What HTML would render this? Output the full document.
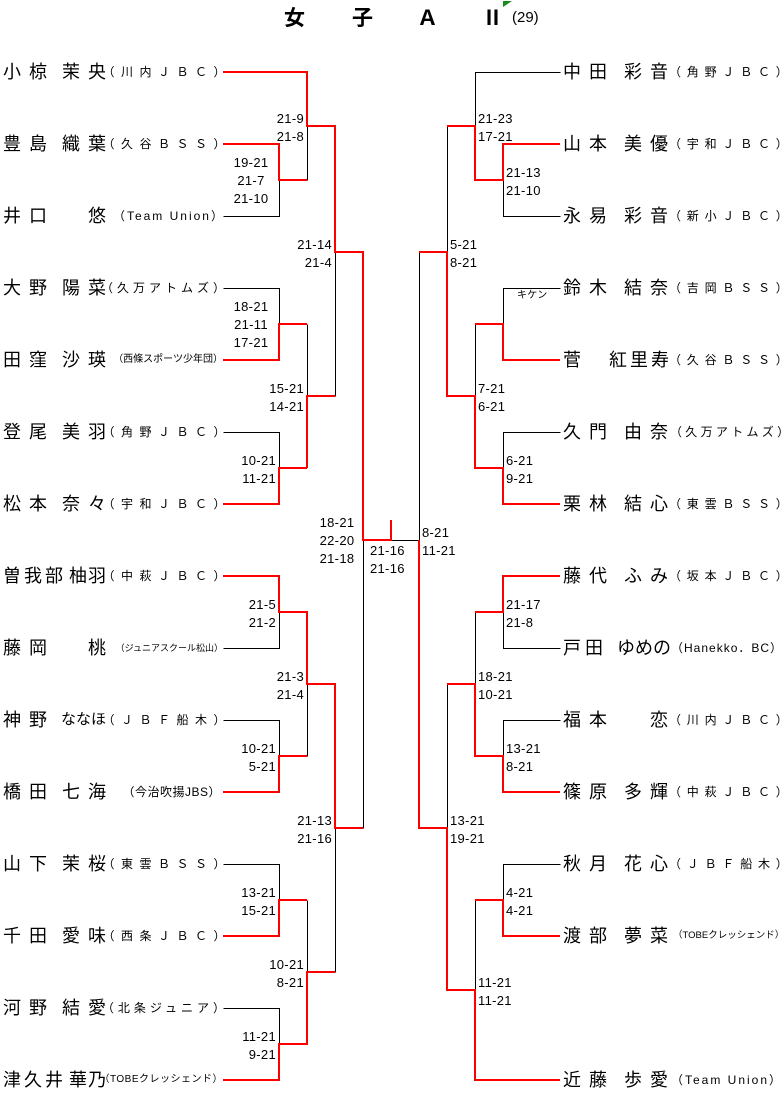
<!DOCTYPE html>
<html><head><meta charset="utf-8"><style>
body{margin:0;width:783px;height:1099px;background:#fff;position:relative;overflow:hidden;font-family:"Liberation Sans","Noto Sans CJK JP",sans-serif;color:#000}
svg{position:absolute;left:0;top:0}
.f,.g,.t,.s{position:absolute;white-space:nowrap}
.f,.g{font-size:18px;line-height:22px;letter-spacing:8px}
.t{font-size:12px;line-height:22px}
.s{font-size:13px;line-height:18px;letter-spacing:.3px}
.r{text-align:right}.c{text-align:center}
</style></head><body>
<svg width="783" height="1099" fill="none">
<g stroke="#000" stroke-width="1" transform="translate(0.5,0.5)">
<path d="M223,216H279V180M307,126V180M335,252V396M223,288H279V324M223,432H279V468M307,324V396M363,540V828M223,648H279V612M223,720H279V756M307,684V756M223,864H279V900M223,1008H279V1044M307,900V972M335,828V972"/>
<path d="M560,72H475V126M560,216H503V180M447,126V252M560,288H503V324M475,324V396M560,432H503V468M419,252V540M391,540H419M560,648H503V612M475,612V684M560,720H503V756M447,684V828M560,864H503V900M475,900V990"/>
</g>
<g stroke="#f00" stroke-width="2">
<path d="M223,72H307V126H335V252H363V540H391V520M223,144H279V180H307M223,360H279V324H307M307,468V396H335M223,504H279V468H307M223,576H279V612H307V684H335V828H363M223,792H279V756H307M223,936H279V900H307M223,1080H279V1044H307V972H335"/>
<path d="M560,144H503V180H475V126H447M560,360H503V324H475M560,504H503V468H475V396H447V252H419M560,576H503V612H475M560,792H503V756H475V684H447M560,936H503V900H475M560,1080H475V990H447V828H419V540"/>
</g>
<polygon points="503,1 512,1 503,7" fill="#1a8a1a"/>
</svg>
<div style="position:absolute;left:284px;top:6px;font-size:21px;font-weight:bold;line-height:26px;white-space:nowrap"><span style="position:absolute;left:0">女</span><span style="position:absolute;left:68px">子</span><span style="position:absolute;left:133px">Ａ</span><span style="position:absolute;left:198px">Ⅱ</span></div>
<div style="position:absolute;left:512px;top:9px;font-size:15px;line-height:18px">(29)</div>

<!-- LEFT names -->
<div class="f" style="left:3px;top:61px">小椋</div><div class="g r" style="right:669px;top:61px">茉央</div><div class="t r" style="right:551px;top:61px;letter-spacing:6.5px">（川内ＪＢＣ）</div>
<div class="f" style="left:3px;top:133px">豊島</div><div class="g r" style="right:669px;top:133px">織葉</div><div class="t r" style="right:551px;top:133px;letter-spacing:6.5px">（久谷ＢＳＳ）</div>
<div class="f" style="left:3px;top:205px">井口</div><div class="g r" style="right:669px;top:205px">悠</div><div class="t r" style="right:558px;top:205px;letter-spacing:2px">（Team Union）</div>
<div class="f" style="left:3px;top:277px">大野</div><div class="g r" style="right:669px;top:277px">陽菜</div><div class="t r" style="right:554px;top:277px;letter-spacing:4px">（久万アトムズ）</div>
<div class="f" style="left:3px;top:349px">田窪</div><div class="g r" style="right:669px;top:349px">沙瑛</div><div class="t r" style="right:560px;top:349px;font-size:10px">（西條スポーツ少年団）</div>
<div class="f" style="left:3px;top:421px">登尾</div><div class="g r" style="right:669px;top:421px">美羽</div><div class="t r" style="right:551px;top:421px;letter-spacing:6.5px">（角野ＪＢＣ）</div>
<div class="f" style="left:3px;top:493px">松本</div><div class="g r" style="right:669px;top:493px">奈々</div><div class="t r" style="right:551px;top:493px;letter-spacing:6.5px">（宇和ＪＢＣ）</div>
<div class="f" style="left:3px;top:565px;letter-spacing:3px">曽我部</div><div class="g r" style="right:676px;top:565px;letter-spacing:1px">柚羽</div><div class="t r" style="right:551px;top:565px;letter-spacing:6.5px">（中萩ＪＢＣ）</div>
<div class="f" style="left:3px;top:637px">藤岡</div><div class="g r" style="right:669px;top:637px">桃</div><div class="t r" style="right:560px;top:637px;font-size:9px">（ジュニアスクール松山）</div>
<div class="f" style="left:3px;top:709px">神野</div><div class="g r" style="right:677px;top:709px;letter-spacing:0;font-size:15px">ななほ</div><div class="t r" style="right:551px;top:709px;letter-spacing:6.5px">（ＪＢＦ船木）</div>
<div class="f" style="left:3px;top:781px">橋田</div><div class="g r" style="right:669px;top:781px">七海</div><div class="t r" style="right:562px;top:781px;letter-spacing:.5px">（今治吹揚JBS）</div>
<div class="f" style="left:3px;top:853px">山下</div><div class="g r" style="right:669px;top:853px">茉桜</div><div class="t r" style="right:551px;top:853px;letter-spacing:6.5px">（東雲ＢＳＳ）</div>
<div class="f" style="left:3px;top:925px">千田</div><div class="g r" style="right:669px;top:925px">愛味</div><div class="t r" style="right:551px;top:925px;letter-spacing:6.5px">（西条ＪＢＣ）</div>
<div class="f" style="left:3px;top:997px">河野</div><div class="g r" style="right:669px;top:997px">結愛</div><div class="t r" style="right:554px;top:997px;letter-spacing:4px">（北条ジュニア）</div>
<div class="f" style="left:3px;top:1069px;letter-spacing:3px">津久井</div><div class="g r" style="right:676px;top:1069px;letter-spacing:1px">華乃</div><div class="t r" style="right:560px;top:1069px;font-size:10px;letter-spacing:.5px">（TOBEクレッシェンド）</div>

<!-- RIGHT names -->
<div class="f" style="left:563px;top:61px">中田</div><div class="g r" style="right:107px;top:61px">彩音</div><div class="t" style="left:669px;top:61px;letter-spacing:5.8px">（角野ＪＢＣ）</div>
<div class="f" style="left:563px;top:133px">山本</div><div class="g r" style="right:107px;top:133px">美優</div><div class="t" style="left:669px;top:133px;letter-spacing:5.8px">（宇和ＪＢＣ）</div>
<div class="f" style="left:563px;top:205px">永易</div><div class="g r" style="right:107px;top:205px">彩音</div><div class="t" style="left:669px;top:205px;letter-spacing:5.8px">（新小ＪＢＣ）</div>
<div class="f" style="left:563px;top:277px">鈴木</div><div class="g r" style="right:107px;top:277px">結奈</div><div class="t" style="left:669px;top:277px;letter-spacing:5.8px">（吉岡ＢＳＳ）</div>
<div class="f" style="left:563px;top:349px">菅</div><div class="g r" style="right:111px;top:349px;letter-spacing:3px">紅里寿</div><div class="t" style="left:669px;top:349px;letter-spacing:5.8px">（久谷ＢＳＳ）</div>
<div class="f" style="left:563px;top:421px">久門</div><div class="g r" style="right:107px;top:421px">由奈</div><div class="t" style="left:670px;top:421px;letter-spacing:3.3px">（久万アトムズ）</div>
<div class="f" style="left:563px;top:493px">栗林</div><div class="g r" style="right:107px;top:493px">結心</div><div class="t" style="left:669px;top:493px;letter-spacing:5.8px">（東雲ＢＳＳ）</div>
<div class="f" style="left:563px;top:565px">藤代</div><div class="g r" style="right:107px;top:565px">ふみ</div><div class="t" style="left:669px;top:565px;letter-spacing:5.8px">（坂本ＪＢＣ）</div>
<div class="f" style="left:563px;top:637px;letter-spacing:4px">戸田</div><div class="g r" style="right:112px;top:637px;letter-spacing:0px">ゆめの</div><div class="t" style="left:671px;top:637px;letter-spacing:1px">（Hanekko．BC）</div>
<div class="f" style="left:563px;top:709px">福本</div><div class="g r" style="right:107px;top:709px">恋</div><div class="t" style="left:669px;top:709px;letter-spacing:5.8px">（川内ＪＢＣ）</div>
<div class="f" style="left:563px;top:781px">篠原</div><div class="g r" style="right:107px;top:781px">多輝</div><div class="t" style="left:669px;top:781px;letter-spacing:5.8px">（中萩ＪＢＣ）</div>
<div class="f" style="left:563px;top:853px">秋月</div><div class="g r" style="right:107px;top:853px">花心</div><div class="t" style="left:669px;top:853px;letter-spacing:5.8px">（ＪＢＦ船木）</div>
<div class="f" style="left:563px;top:925px">渡部</div><div class="g r" style="right:107px;top:925px">夢菜</div><div class="t" style="left:673px;top:925px;font-size:9.5px">（TOBEクレッシェンド）</div>
<div class="f" style="left:563px;top:1069px">近藤</div><div class="g r" style="right:107px;top:1069px">歩愛</div><div class="t" style="left:671px;top:1069px;letter-spacing:2px">（Team Union）</div>

<!-- LEFT scores -->
<div class="s r" style="right:479px;top:110px">21-9<br>21-8</div>
<div class="s c" style="left:226px;width:50px;top:154px">19-21<br>21-7<br>21-10</div>
<div class="s r" style="right:451px;top:236px">21-14<br>21-4</div>
<div class="s c" style="left:226px;width:50px;top:298px">18-21<br>21-11<br>17-21</div>
<div class="s r" style="right:479px;top:380px">15-21<br>14-21</div>
<div class="s r" style="right:507px;top:452px">10-21<br>11-21</div>
<div class="s c" style="left:312px;width:50px;top:514px">18-21<br>22-20<br>21-18</div>
<div class="s r" style="right:507px;top:596px">21-5<br>21-2</div>
<div class="s r" style="right:479px;top:668px">21-3<br>21-4</div>
<div class="s r" style="right:507px;top:740px">10-21<br>5-21</div>
<div class="s r" style="right:451px;top:812px">21-13<br>21-16</div>
<div class="s r" style="right:507px;top:884px">13-21<br>15-21</div>
<div class="s r" style="right:479px;top:956px">10-21<br>8-21</div>
<div class="s r" style="right:507px;top:1028px">11-21<br>9-21</div>
<div class="s" style="left:370px;top:542px">21-16<br>21-16</div>

<!-- RIGHT scores -->
<div class="s" style="left:478px;top:110px">21-23<br>17-21</div>
<div class="s" style="left:506px;top:164px">21-13<br>21-10</div>
<div class="s" style="left:450px;top:236px">5-21<br>8-21</div>
<div class="s" style="left:517px;top:289px;font-size:10px;line-height:14px">キケン</div>
<div class="s" style="left:478px;top:380px">7-21<br>6-21</div>
<div class="s" style="left:506px;top:452px">6-21<br>9-21</div>
<div class="s" style="left:422px;top:524px">8-21<br>11-21</div>
<div class="s" style="left:506px;top:596px">21-17<br>21-8</div>
<div class="s" style="left:478px;top:668px">18-21<br>10-21</div>
<div class="s" style="left:506px;top:740px">13-21<br>8-21</div>
<div class="s" style="left:450px;top:812px">13-21<br>19-21</div>
<div class="s" style="left:506px;top:884px">4-21<br>4-21</div>
<div class="s" style="left:478px;top:974px">11-21<br>11-21</div>
</body></html>
